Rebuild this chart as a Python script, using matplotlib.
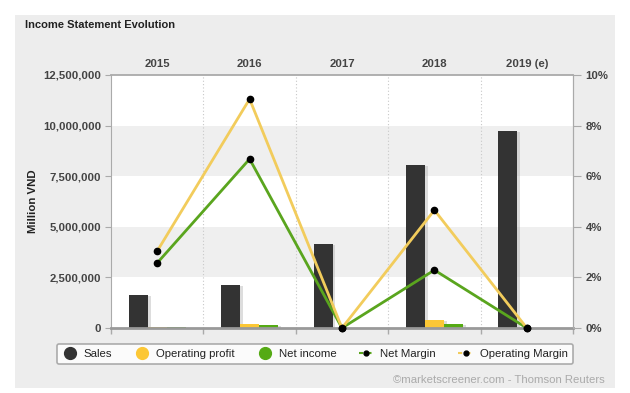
import matplotlib
matplotlib.use("Agg")
import matplotlib.pyplot as plt
import matplotlib.patheffects as pe
from matplotlib.lines import Line2D
from matplotlib.patches import Rectangle
import numpy as np

plt.rcParams['font.family'] = ['Liberation Sans', 'DejaVu Sans']

years = ["2015", "2016", "2017", "2018", "2019 (e)"]
sales = [1630000, 2120000, 4150000, 8050000, 9730000]
operating_profit = [60000, 210000, 0, 395000, 0]
net_income = [45000, 150000, 0, 210000, 0]
net_margin = [2.57, 6.68, 0.0, 2.29, 0.0]
operating_margin = [3.04, 9.05, 0.0, 4.66, 0.0]
left_ticks = [0, 2500000, 5000000, 7500000, 10000000, 12500000]
left_labels = ["0", "2,500,000", "5,000,000", "7,500,000", "10,000,000", "12,500,000"]
right_ticks = [0, 2, 4, 6, 8, 10]
right_labels = ["0%", "2%", "4%", "6%", "8%", "10%"]

c_sales = "#333333"
c_op = "#fcc735"
c_net = "#55aa14"
c_opm = "#f2cc5c"
c_netm = "#5aa51e"
txt = "#444444"
fs = 8.2

fig = plt.figure(figsize=(6.3, 3.93), dpi=100)
fig.patch.set_facecolor("white")
fig.patches.append(Rectangle((15/630, 5/393), 600/630, 373/393, transform=fig.transFigure,
                             facecolor="#ededed", edgecolor="none", zorder=-10))

ax = fig.add_axes([111/630, 65/393, 462/630, 253/393])
ax.set_facecolor("white")
x = np.arange(len(years))
ax.set_xlim(-0.5, len(years) - 0.5)
ax.set_ylim(0, 12500000)

for lo in (2500000, 7500000):
    ax.axhspan(lo, lo + 2500000, color="#efefef", zorder=0, lw=0)
for b in np.arange(0.5, len(years) - 0.5, 1):
    ax.axvline(b, color="#c8c8c8", ls=(0, (1, 2)), lw=0.8, zorder=0.5)

w = 0.205
shadow = [pe.SimplePatchShadow(offset=(2, -1), shadow_rgbFace="#aaaaaa", alpha=0.4), pe.Normal()]
for vals, off, col in ((sales, -w, c_sales), (operating_profit, 0, c_op), (net_income, w, c_net)):
    bars = ax.bar(x + off, vals, width=w, color=col, zorder=2)
    for r in bars:
        r.set_path_effects(shadow)

ax.set_yticks(left_ticks)
ax.set_yticklabels(left_labels)
ax.set_xticks([])
ax.set_xticks(np.arange(-0.5, len(years), 1), minor=True)
ax.tick_params(axis="x", which="minor", length=4, color="#aaaaaa", width=1)
ax.tick_params(axis="y", length=4, color="#aaaaaa", labelsize=fs, labelcolor=txt, pad=3)
for lab in ax.get_yticklabels():
    lab.set_fontweight("bold")
ax.spines["top"].set_visible(False)
ax.spines["left"].set_color("#aaaaaa")
ax.spines["right"].set_color("#aaaaaa")
ax.spines["bottom"].set_color("#999999")
ax.spines["bottom"].set_linewidth(2)

top = ax.secondary_xaxis("top")
top.set_xticks(x)
top.set_xticklabels(years, fontweight="bold", fontsize=fs, color=txt)
top.tick_params(length=0, pad=4)
top.spines["top"].set_color("#aaaaaa")
top.spines["top"].set_linewidth(1.3)

ax2 = ax.twinx()
ax2.set_ylim(0, 10)
ax2.plot(x, net_margin, color=c_netm, lw=2, marker="o", ms=4.5, mfc="black", mec="black", zorder=3, clip_on=False)
ax2.plot(x, operating_margin, color=c_opm, lw=2, marker="o", ms=4.5, mfc="black", mec="black", zorder=4, clip_on=False)
ax2.set_yticks(right_ticks)
ax2.set_yticklabels(right_labels)
ax2.tick_params(axis="y", length=6, color="#aaaaaa", labelsize=fs, labelcolor=txt, pad=3)
for lab in ax2.get_yticklabels():
    lab.set_fontweight("bold")
for s in ("top", "left", "bottom"):
    ax2.spines[s].set_visible(False)
ax2.spines["right"].set_color("#aaaaaa")

fig.text(25/630, 1 - 25/393, "Income Statement Evolution", fontsize=8, fontweight="bold",
         color="#222222", va="center", ha="left")
fig.text(33/630, 1 - 201/393, "Million VND", rotation=90, fontsize=fs, fontweight="bold",
         color="#222222", va="center", ha="center")
fig.text(605/630, 1 - 380/393, "\u00a9marketscreener.com - Thomson Reuters", fontsize=fs,
         color="#aaaaaa", ha="right", va="center")

handles = [
    Line2D([], [], ls="none", marker="o", ms=8.5, color=c_sales),
    Line2D([], [], ls="none", marker="o", ms=8.5, color=c_op),
    Line2D([], [], ls="none", marker="o", ms=8.5, color=c_net),
    Line2D([], [], ls=(0, (2, 2)), lw=1.5, color=c_netm, marker="o", ms=3.5, mfc="black", mec="black"),
    Line2D([], [], ls=(0, (2, 2)), lw=1.5, color=c_opm, marker="o", ms=3.5, mfc="black", mec="black"),
]
labels = ["Sales", "Operating profit", "Net income", "Net Margin", "Operating Margin"]
leg = fig.legend(handles, labels, loc="center", bbox_to_anchor=(315/630, 1 - 354/393), ncol=5,
                 frameon=True, fancybox=True, fontsize=fs, handlelength=1.3, handletextpad=0.6,
                 columnspacing=1.95, borderpad=0.45)
leg.get_frame().set_edgecolor("#999999")
leg.get_frame().set_linewidth(1.2)
leg.get_frame().set_facecolor("white")
for t in leg.get_texts():
    t.set_color("#222222")

fig.savefig("out.png", dpi=100, facecolor=fig.get_facecolor())
